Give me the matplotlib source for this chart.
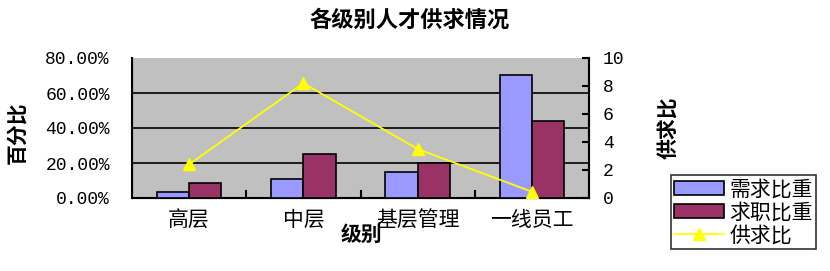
import matplotlib
matplotlib.use("Agg")
import matplotlib.pyplot as plt
import numpy as np
from matplotlib.ticker import FuncFormatter, MultipleLocator

plt.rcParams['font.family'] = ['Noto Sans CJK SC', 'DejaVu Sans']

categories = ['高层', '中层', '基层管理', '一线员工']
demand_share = [3.3, 10.8, 15.1, 70.3]     # 需求比重 (%)
supply_share = [8.5, 25.4, 20.2, 44.2]    # 求职比重 (%)
supply_demand_ratio = [2.4, 8.2, 3.5, 0.45]  # 供求比

W, H = 830, 271
fig = plt.figure(figsize=(W/100, H/100), dpi=100)
ax = fig.add_axes([132/W, 1-198/H, (589-132)/W, (198-58)/H])
ax.set_facecolor('#C0C0C0')

x = np.arange(len(categories))
bw = 0.283
ax.bar(x - bw/2, demand_share, bw, color='#9999FF', edgecolor='black', linewidth=1.2, label='需求比重', zorder=3)
ax.bar(x + bw/2, supply_share, bw, color='#993366', edgecolor='black', linewidth=1.2, label='求职比重', zorder=3)
ax.set_xlim(-0.5, len(categories)-0.5)
ax.set_ylim(0, 80)
ax.yaxis.set_major_locator(MultipleLocator(20))
ax.yaxis.set_major_formatter(FuncFormatter(lambda v, p: f"{v:.2f}%"))
for g in [20, 40, 60]:
    ax.axhline(g, color='black', linewidth=1.2, zorder=1)

ax.set_xticks(x)
ax.set_xticklabels(categories, fontsize=15)
ax.set_xticks(np.arange(0.5, len(categories)-0.5, 1), minor=True)
ax.tick_params(axis='x', which='major', length=0, pad=8)
ax.tick_params(axis='x', which='minor', direction='in', length=6, width=1.5)
ax.tick_params(axis='y', direction='in', length=0, pad=16)
for lab in ax.get_yticklabels():
    lab.set_fontproperties('Liberation Mono')
    lab.set_fontsize(13)
ax.spines['top'].set_visible(False)
for s in ['left', 'bottom', 'right']:
    ax.spines[s].set_linewidth(1.5)

ax2 = ax.twinx()
ax2.plot(x, supply_demand_ratio, color='#FFFF00', marker='^', markersize=8, linewidth=1.3, label='供求比', zorder=5)
ax2.set_ylim(0, 10)
ax2.yaxis.set_major_locator(MultipleLocator(2))
ax2.tick_params(axis='y', direction='in', length=5, width=1.5, pad=10)
for lab in ax2.get_yticklabels():
    lab.set_fontproperties('Liberation Mono')
    lab.set_fontsize(13)
ax2.spines['top'].set_visible(False)
ax2.spines['right'].set_linewidth(1.5)

fig.text(410/W, 1-20/H, '各级别人才供求情况', ha='center', va='center', fontsize=16, fontweight='bold')
fig.text(17/W, 1-133/H, '百分比', ha='center', va='center', rotation=90, fontsize=15, fontweight='bold')
fig.text(669/W, 1-128/H, '供求比', ha='center', va='center', rotation=90, fontsize=15, fontweight='bold')
fig.text(362/W, 1-234/H, '级别', ha='center', va='center', fontsize=15, fontweight='bold')

h1, l1 = ax.get_legend_handles_labels()
h2, l2 = ax2.get_legend_handles_labels()
leg = fig.legend(h1 + h2, l1 + l2, loc='upper left', bbox_to_anchor=(671/W, 1-175/H),
                 fontsize=15, frameon=True, fancybox=False, edgecolor='black',
                 borderpad=0.15, labelspacing=0.05, handlelength=2.4, handletextpad=0.25,
                 borderaxespad=0)
leg.get_frame().set_linewidth(1.2)

fig.savefig('out.png', dpi=100)
